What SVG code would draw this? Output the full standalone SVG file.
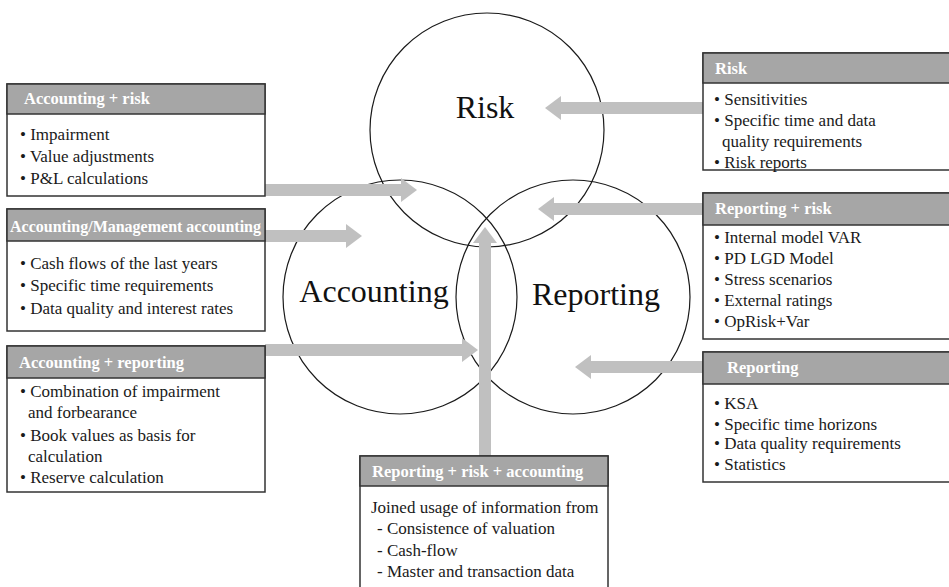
<svg xmlns="http://www.w3.org/2000/svg" width="949" height="587" viewBox="0 0 949 587">
<style>
.circ{fill:none;stroke:#1a1a1a;stroke-width:1.2}
.box{fill:#fff;stroke:#333;stroke-width:1.5}
.hdr{fill:#a6a6a6;stroke:#333;stroke-width:1.5}
.ht{font-family:"Liberation Serif",serif;font-weight:bold;font-size:16.5px;fill:#fff}
.bt{font-family:"Liberation Serif",serif;font-size:17px;fill:#1a1a1a}
.big{font-family:"Liberation Serif",serif;font-size:32px;fill:#111}
.arr{fill:#c0c0c0}
</style>
<rect width="949" height="587" fill="#fff"/>
<g id="circles">
<circle class="circ" cx="487" cy="130" r="117"/>
<circle class="circ" cx="400" cy="297" r="117"/>
<circle class="circ" cx="573" cy="297" r="117"/>
<text class="big" x="485" y="118" text-anchor="middle">Risk</text>
<text class="big" x="374" y="302" text-anchor="middle">Accounting</text>
<text class="big" x="596" y="305" text-anchor="middle">Reporting</text>
</g>
<g id="connectors">
<polygon class="arr" points="265,184 401,184 401,178 417,190 401,202 401,196 265,196"/>
<polygon class="arr" points="265,230 346,230 346,224 362,236 346,248 346,242 265,242"/>
<polygon class="arr" points="265,344 462,344 462,338 478,350 462,362 462,356 265,356"/>
<polygon class="arr" points="479,456 479,243 473,243 485,227 497,243 491,243 491,456"/>
<polygon class="arr" points="703,102 561,102 561,96 545,108 561,120 561,114 703,114"/>
<polygon class="arr" points="703,203 554,203 554,197 538,209 554,221 554,215 703,215"/>
<polygon class="arr" points="703,361 591,361 591,355 575,367 591,379 591,373 703,373"/>
</g>
<g id="box-acc-risk">
<rect class="box" x="7" y="84" width="258" height="112"/>
<rect class="hdr" x="7" y="84" width="258" height="30"/>
<text class="ht" x="24" y="104">Accounting + risk</text>
<text class="bt" x="20" y="140">• Impairment</text>
<text class="bt" x="20" y="162">• Value adjustments</text>
<text class="bt" x="20" y="184">• P&amp;L calculations</text>
</g>
<g id="box-acc-mgmt">
<rect class="box" x="7" y="209" width="258" height="122"/>
<rect class="hdr" x="7" y="209" width="258" height="32"/>
<text class="ht" x="10" y="232" textLength="251" lengthAdjust="spacingAndGlyphs">Accounting/Management accounting</text>
<text class="bt" x="20" y="269">• Cash flows of the last years</text>
<text class="bt" x="20" y="291">• Specific time requirements</text>
<text class="bt" x="20" y="314">• Data quality and interest rates</text>
</g>
<g id="box-acc-rep">
<rect class="box" x="7" y="346" width="258" height="146"/>
<rect class="hdr" x="7" y="346" width="258" height="32"/>
<text class="ht" x="19" y="368">Accounting + reporting</text>
<text class="bt" x="20" y="397">• Combination of impairment</text>
<text class="bt" x="28" y="418">and forbearance</text>
<text class="bt" x="20" y="441">• Book values as basis for</text>
<text class="bt" x="28" y="462">calculation</text>
<text class="bt" x="20" y="483">• Reserve calculation</text>
</g>
<g id="box-risk">
<rect class="box" x="703" y="53" width="260" height="117"/>
<rect class="hdr" x="703" y="53" width="260" height="30"/>
<text class="ht" x="715" y="74">Risk</text>
<text class="bt" x="714" y="105">• Sensitivities</text>
<text class="bt" x="714" y="126">• Specific time and data</text>
<text class="bt" x="722" y="147">quality requirements</text>
<text class="bt" x="714" y="168">• Risk reports</text>
</g>
<g id="box-rep-risk">
<rect class="box" x="703" y="193" width="260" height="146"/>
<rect class="hdr" x="703" y="193" width="260" height="32"/>
<text class="ht" x="715" y="214">Reporting + risk</text>
<text class="bt" x="714" y="243">• Internal model VAR</text>
<text class="bt" x="714" y="264">• PD LGD Model</text>
<text class="bt" x="714" y="285">• Stress scenarios</text>
<text class="bt" x="714" y="306">• External ratings</text>
<text class="bt" x="714" y="327">• OpRisk+Var</text>
</g>
<g id="box-rep">
<rect class="box" x="703" y="352" width="260" height="130"/>
<rect class="hdr" x="703" y="352" width="260" height="32"/>
<text class="ht" x="727" y="373">Reporting</text>
<text class="bt" x="714" y="409">• KSA</text>
<text class="bt" x="714" y="430">• Specific time horizons</text>
<text class="bt" x="714" y="449">• Data quality requirements</text>
<text class="bt" x="714" y="470">• Statistics</text>
</g>
<g id="box-all">
<rect class="box" x="360" y="456" width="248" height="150"/>
<rect class="hdr" x="360" y="456" width="248" height="30"/>
<text class="ht" x="372" y="477">Reporting + risk + accounting</text>
<text class="bt" x="371" y="513">Joined usage of information from</text>
<text class="bt" x="377" y="534">- Consistence of valuation</text>
<text class="bt" x="377" y="556">- Cash-flow</text>
<text class="bt" x="377" y="577">- Master and transaction data</text>
</g>
</svg>
